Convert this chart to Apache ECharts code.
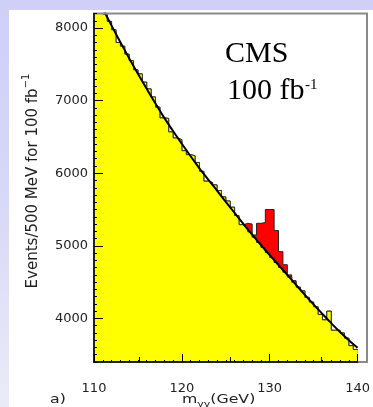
<!DOCTYPE html>
<html><head><meta charset="utf-8">
<script src="https://cdn.jsdelivr.net/npm/echarts@6/dist/echarts.min.js"></script>
<style>
html,body{margin:0;padding:0;width:373px;height:407px;overflow:hidden;}
body{background:linear-gradient(to bottom,#cfcff8 0%,#d8d8f8 50%,#ebebf8 100%);position:relative;}
#panel{position:absolute;left:9px;top:10px;right:0;bottom:0;background:#fff;}
#chart{position:absolute;left:0;top:0;width:373px;height:407px;}
</style></head><body>
<div id="panel"></div><div id="chart"></div>
<script>
// lower edges of the 500 MeV bins (GeV)
const binEdges = [110,110.5,111,111.5,112,112.5,113,113.5,114,114.5,115,115.5,116,116.5,117,117.5,118,118.5,119,119.5,
  120,120.5,121,121.5,122,122.5,123,123.5,124,124.5,125,125.5,126,126.5,127,127.5,128,128.5,129,129.5,
  130,130.5,131,131.5,132,132.5,133,133.5,134,134.5,135,135.5,136,136.5,137,137.5,138,138.5,139,139.5];
const binUpper = 140;
// background (yellow) events per bin
const background = [8447,8327,8190,8091,7976,7800,7750,7640,7550,7424,7368,7254,7161,7050,6910,6762,6755,6569,6485,6462,
  6310,6255,6241,6148,6026,5891,5872,5839,5762,5674,5617,5532,5417,5291,5266,5192,5119,5047,4977,4907,
  4838,4770,4703,4636,4570,4500,4430,4380,4290,4225,4160,4055,3980,4100,3837,3837,3800,3728,3625,3573];
// Higgs signal (red) events per bin, stacked on background
const signal = [0,0,0,0,0,0,0,0,0,0,0,0,0,0,0,0,0,0,0,0,
  0,0,0,0,0,0,0,0,0,0,0,0,0,0,44,108,31,263,343,593,
  662,440,217,104,30,20,0,0,0,0,0,0,0,0,0,0,0,0,0,0];
// background fit curve
const fitMass = [111,112,113,114,115,116,117,118,119,120,121,122,123,124,125,126,127,128,129,130,131,132,133,134,135,136,137,138,139,140];
const fitValues = [8267,8033,7806,7585,7370,7162,6959,6762,6581,6405,6234,6068,5913,5762,5606,5454,5302,5154,5010,4871,4735,4600,4462,4325,4192,4062,3935,3812,3700,3595];
// axis ticks
const xTicks = [110,120,130,140];
const xMidTicks = [115,125,135];
const yTicks = [4000,5000,6000,7000,8000];

function stepData(vals){
  const d = binEdges.map((e,i)=>[e, vals[i]]);
  d.push([binUpper, vals[vals.length-1]]);
  return d;
}
const totalVals = background.map((b,i)=>b+signal[i]);

const chart = echarts.init(document.getElementById('chart'), null, {renderer:'canvas'});
const gridRect = {left:94, top:13.5, width:273, height:348.5};
const labelFont = 'DejaVu Sans';
const plain = v => String(v);
chart.setOption({
  animation:false,
  backgroundColor:'transparent',
  grid:[
    Object.assign({show:false}, gridRect),
    Object.assign({show:true, z:5, backgroundColor:'transparent', borderColor:'#8a8a8a', borderWidth:2}, gridRect)
  ],
  xAxis:[
    {gridIndex:0, type:'value', min:110, max:140, interval:10, z:10,
     axisLine:{onZero:false, lineStyle:{color:'#000', width:1.5}},
     axisTick:{inside:true, length:8, lineStyle:{color:'#000', width:1}},
     minorTick:{show:true, splitNumber:10, length:2, lineStyle:{color:'#000', width:1}},
     splitLine:{show:false},
     axisLabel:{margin:20, fontFamily:labelFont, fontSize:13, color:'#222', customValues:xTicks, formatter:plain}},
    {gridIndex:1, type:'value', min:110, max:140, z:10,
     axisLine:{show:false},
     axisTick:{inside:true, length:5, customValues:xMidTicks, lineStyle:{color:'#000', width:1}},
     axisLabel:{show:false}, splitLine:{show:false}}
  ],
  yAxis:[
    {gridIndex:0, type:'value', min:3400, max:8200, splitNumber:5, z:10,
     axisLine:{show:true, onZero:false, lineStyle:{color:'#000', width:1.5}},
     axisTick:{show:true, inside:true, length:9, customValues:yTicks, lineStyle:{color:'#000', width:1}},
     splitLine:{show:false},
     axisLabel:{margin:6, fontFamily:labelFont, fontSize:13, color:'#222', customValues:yTicks, formatter:plain}},
    {gridIndex:1, type:'value', min:3400, max:8200, interval:100, z:10,
     axisLine:{show:false},
     axisTick:{show:true, inside:true, length:3, lineStyle:{color:'#000', width:1}},
     axisLabel:{show:false}, splitLine:{show:false}}
  ],
  series:[
    {type:'line', name:'signal+background', xAxisIndex:0, yAxisIndex:0, step:'end', z:2,
     data:stepData(totalVals), showSymbol:false, symbol:'none',
     lineStyle:{color:'#222', width:1}, areaStyle:{color:'#ff0000', origin:'start', opacity:1}},
    {type:'line', name:'background', xAxisIndex:0, yAxisIndex:0, step:'end', z:3,
     data:stepData(background), showSymbol:false, symbol:'none',
     lineStyle:{color:'#333', width:1}, areaStyle:{color:'#ffff00', origin:'start', opacity:1}},
    {type:'line', name:'fit', xAxisIndex:0, yAxisIndex:0, z:4, smooth:true,
     data:fitMass.map((m,i)=>[m, fitValues[i]]), showSymbol:false, symbol:'none',
     lineStyle:{color:'#000', width:2}}
  ],
  graphic:[
    {type:'text', x:31, y:181, rotation:Math.PI/2, z:20,
     style:{text:'{n|Events/500 MeV for 100 fb}{s|\u22121}', textAlign:'center', textVerticalAlign:'middle', fill:'#222',
       rich:{n:{fontFamily:labelFont, fontSize:15, lineHeight:20, verticalAlign:'bottom', fill:'#222'},
             s:{fontFamily:labelFont, fontSize:10, lineHeight:10, verticalAlign:'top', fill:'#222'}}}},
    {type:'text', x:182, y:400, scaleX:1.37, originX:0, originY:0, z:20,
     style:{text:'{a|m}{b|\u03b3\u03b3}{a|(GeV)}', textAlign:'left', textVerticalAlign:'middle', fill:'#222',
       rich:{a:{fontFamily:labelFont, fontSize:11.5, lineHeight:18, verticalAlign:'middle', fill:'#222'},
             b:{fontFamily:labelFont, fontSize:8, lineHeight:8, verticalAlign:'bottom', fill:'#222'}}}},
    {type:'text', x:50, y:400, scaleX:1.37, originX:0, originY:0, z:20,
     style:{text:'a)', font:'11.5px "DejaVu Sans"', textAlign:'left', textVerticalAlign:'middle', fill:'#222'}},
    {type:'text', x:225, y:54, z:20,
     style:{text:'CMS', font:'30px "Liberation Serif"', textAlign:'left', textVerticalAlign:'middle', fill:'#000'}},
    {type:'text', x:227, y:91, z:20,
     style:{text:'100 fb', font:'30px "Liberation Serif"', textAlign:'left', textVerticalAlign:'middle', fill:'#000'}},
    {type:'text', x:305, y:85, z:20,
     style:{text:'-1', font:'15px "Liberation Serif"', textAlign:'left', textVerticalAlign:'middle', fill:'#000'}}
  ]
});
</script>
</body></html>
